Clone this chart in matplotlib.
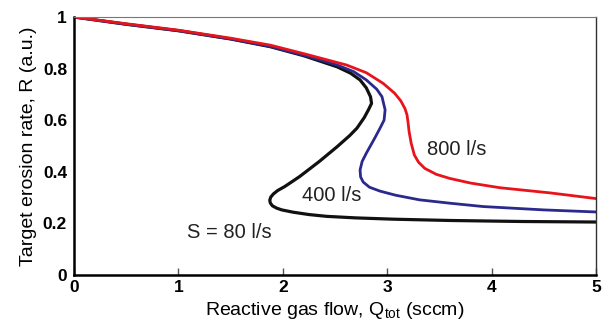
import matplotlib.pyplot as plt

plt.rcParams['font.family'] = ['Liberation Sans', 'DejaVu Sans']

# 80 l/s curve (S-shaped)
q_80 = [0.0, 0.5, 1.0, 1.5, 1.88, 2.2, 2.52, 2.65, 2.74, 2.8, 2.84, 2.85, 2.82, 2.78, 2.71, 2.64,
        2.52, 2.35, 2.16, 2.02, 1.95, 1.91, 1.885, 1.875, 1.88, 1.9, 1.94, 1.99, 2.1, 2.25, 2.42, 2.7,
        3.06, 3.6, 4.3, 5.0]
r_80 = [1.0, 0.972, 0.947, 0.915, 0.885, 0.85, 0.807, 0.782, 0.756, 0.725, 0.691, 0.665, 0.64, 0.61, 0.569, 0.54,
        0.497, 0.44, 0.381, 0.343, 0.327, 0.314, 0.302, 0.29, 0.279, 0.268, 0.259, 0.252, 0.243, 0.234, 0.227, 0.221,
        0.216, 0.211, 0.207, 0.205]

# 400 l/s curve
q_400 = [0.0, 0.5, 1.0, 1.5, 1.88, 2.2, 2.52, 2.68, 2.8, 2.9, 2.95, 2.98, 2.97, 2.93, 2.88,
         2.8, 2.76, 2.74, 2.745, 2.77, 2.83, 2.93, 3.08, 3.31, 3.6, 3.92, 4.5, 5.0]
r_400 = [1.0, 0.972, 0.947, 0.915, 0.886, 0.852, 0.814, 0.788, 0.756, 0.72, 0.691, 0.64, 0.6, 0.568, 0.53,
         0.472, 0.44, 0.407, 0.38, 0.36, 0.34, 0.325, 0.309, 0.291, 0.278, 0.265, 0.252, 0.244]

# 800 l/s curve
q_800 = [0.0, 0.5, 1.0, 1.5, 1.88, 2.2, 2.61, 2.8, 2.96, 3.07, 3.13, 3.17, 3.19, 3.2, 3.21, 3.23,
         3.26, 3.3, 3.36, 3.47, 3.6, 3.8, 4.08, 4.56, 5.0]
r_800 = [1.0, 0.974, 0.949, 0.918, 0.891, 0.858, 0.814, 0.784, 0.743, 0.705, 0.675, 0.645, 0.62, 0.59, 0.555, 0.51,
         0.465, 0.437, 0.413, 0.39, 0.374, 0.356, 0.338, 0.318, 0.296]

labels = ['S = 80 l/s', '400 l/s', '800 l/s']
label_x = [1.49, 2.47, 3.67]
label_y = [0.163, 0.306, 0.485]

fig = plt.figure(figsize=(6.02, 3.34), dpi=100)
ax = fig.add_axes([0.123, 0.177, 0.867, 0.772])

ax.plot(q_80, r_80, color='#111111', lw=2.3, solid_capstyle='round', solid_joinstyle='round')
ax.plot(q_400, r_400, color='#2b2a8c', lw=2.0, solid_capstyle='round', solid_joinstyle='round')
ax.plot(q_800, r_800, color='#e8141b', lw=2.0, solid_capstyle='round', solid_joinstyle='round')

for t, x, y in zip(labels, label_x, label_y):
    ax.text(x, y, t, fontsize=14.5, ha='center', va='center', color='#222222')

ax.set_xlim(0, 5)
ax.set_ylim(0, 1)
ax.set_xticks([0, 1, 2, 3, 4, 5])
ax.set_yticks([0, 0.2, 0.4, 0.6, 0.8, 1])
ax.set_yticklabels(['0', '0.2', '0.4', '0.6', '0.8', '1'])
for lab in ax.get_xticklabels() + ax.get_yticklabels():
    lab.set_fontweight('bold')
    lab.set_fontsize(12.5)
ax.tick_params(axis='x', direction='in', length=5, width=1, pad=4, color='#555555')
ax.tick_params(axis='y', length=0, pad=5)

ax.spines['left'].set_linewidth(1.8)
ax.spines['bottom'].set_linewidth(1.8)
ax.spines['top'].set_linewidth(0.8)
ax.spines['top'].set_color('#777777')
ax.spines['right'].set_linewidth(1.0)
ax.spines['right'].set_color('#333333')

ax.set_xlabel(r'Reactive gas flow, Q$_{\mathregular{tot}}$ (sccm)', fontsize=14, labelpad=3)
ax.set_ylabel('Target erosion rate, R (a.u.)', fontsize=14, labelpad=4)

fig.savefig('out.png', dpi=100)
